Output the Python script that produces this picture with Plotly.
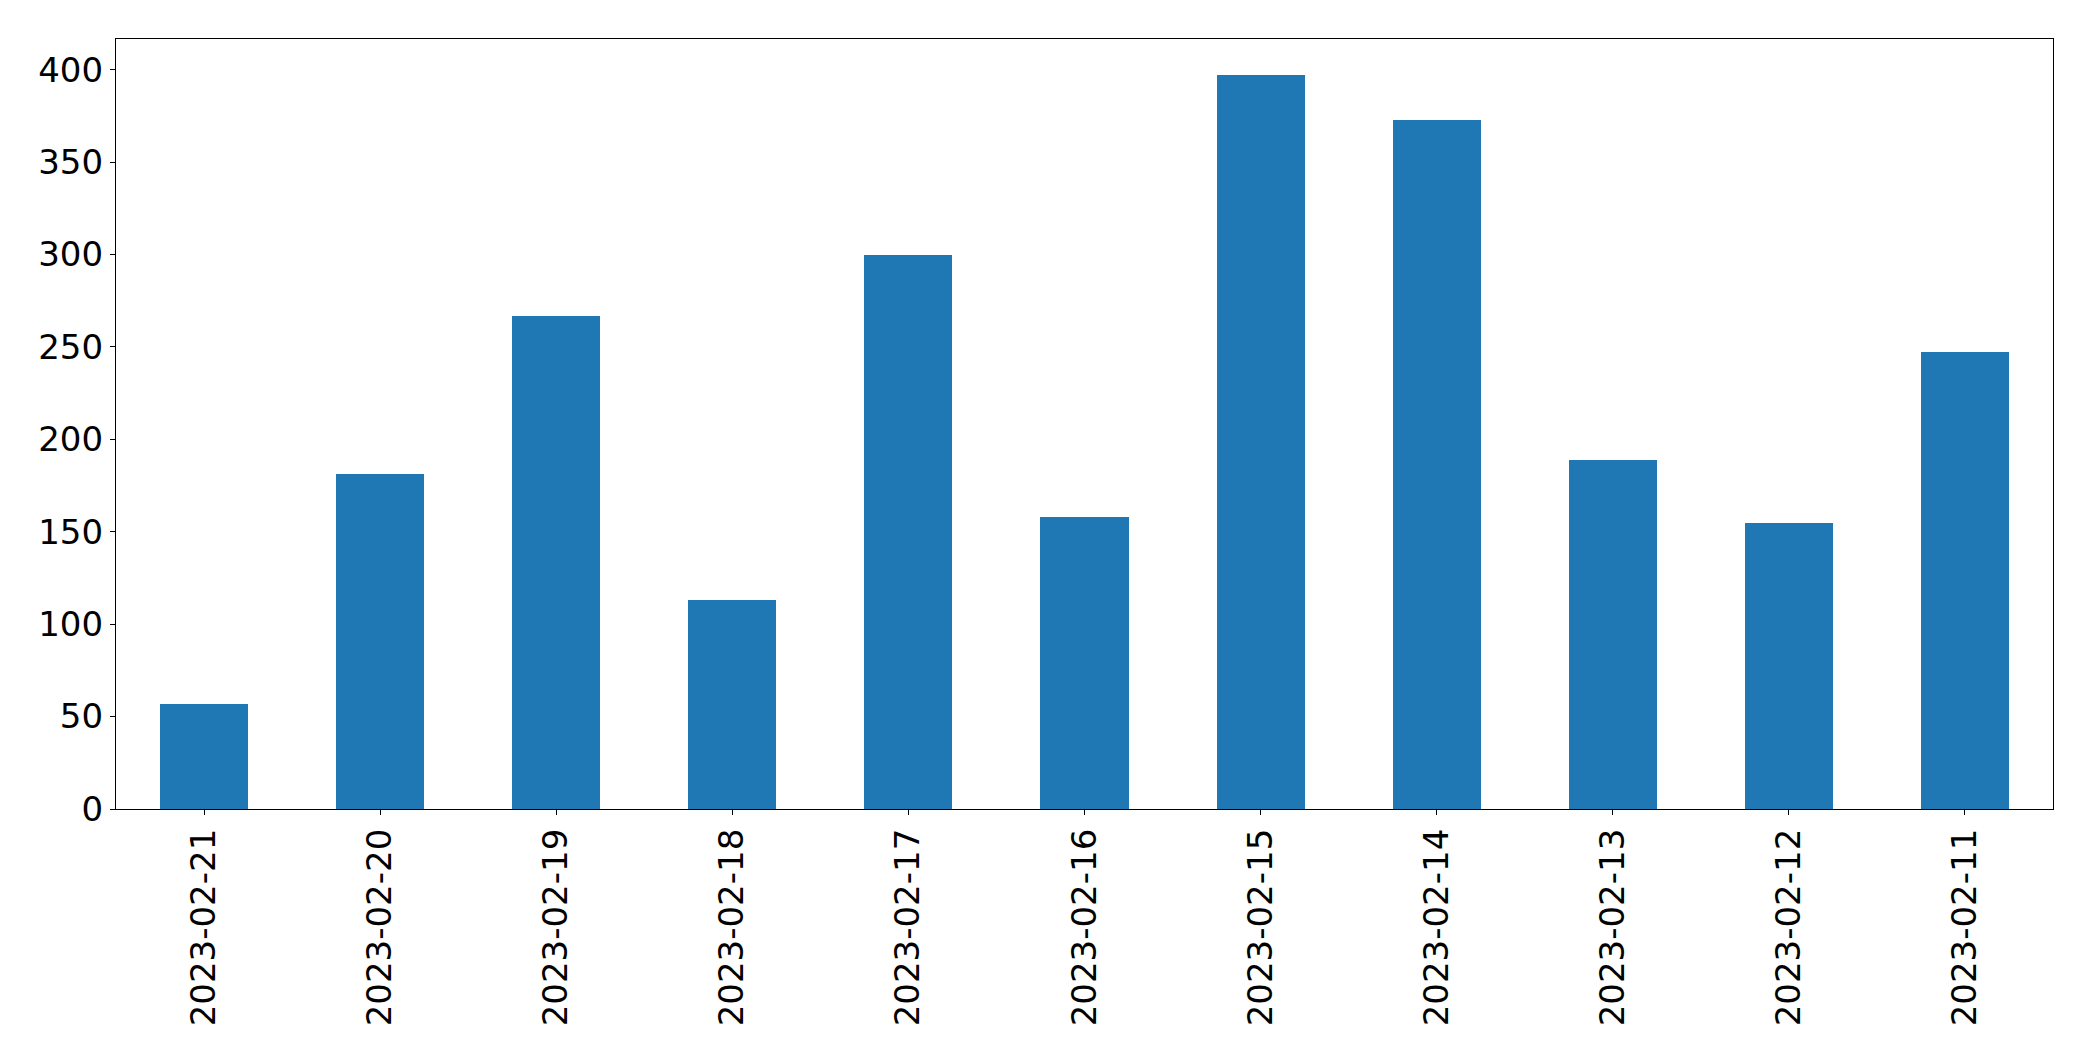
import plotly.graph_objects as go

dates = ["2023-02-21", "2023-02-20", "2023-02-19", "2023-02-18", "2023-02-17",
         "2023-02-16", "2023-02-15", "2023-02-14", "2023-02-13", "2023-02-12",
         "2023-02-11"]
counts = [57, 181, 267, 113, 300, 158, 397, 373, 189, 155, 247]
y_ticks = [0, 50, 100, 150, 200, 250, 300, 350, 400]

fig = go.Figure()
fig.add_trace(go.Bar(
    x=list(range(len(dates))), y=counts, width=0.5,
    marker=dict(color="#1f77b4", line=dict(width=0)),
))

axis_common = dict(
    showline=True, linecolor="black", linewidth=1.3, mirror=True,
    ticks="outside", ticklen=5, tickwidth=1.3, tickcolor="black",
    showgrid=False, zeroline=False,
    tickfont=dict(family="DejaVu Sans", size=34, color="black"),
)

# page body has an 8px default margin; compensate so the plot area lands
# at x 116..2053, y 39..809 in the window
fig.update_layout(
    width=2077, height=1045,
    margin=dict(l=108, r=32, t=31, b=244, pad=0),
    paper_bgcolor="white", plot_bgcolor="white",
    showlegend=False,
    bargap=0,
    xaxis=dict(
        range=[-0.5, len(dates) - 0.5],
        tickmode="array", tickvals=list(range(len(dates))), ticktext=dates,
        tickangle=-90, ticklabelstandoff=0,
        **axis_common,
    ),
    yaxis=dict(
        range=[0, 416.6],
        tickmode="array", tickvals=y_ticks, ticktext=[str(v) for v in y_ticks],
        ticklabelstandoff=0,
        **axis_common,
    ),
)

fig.write_html("out.html")
